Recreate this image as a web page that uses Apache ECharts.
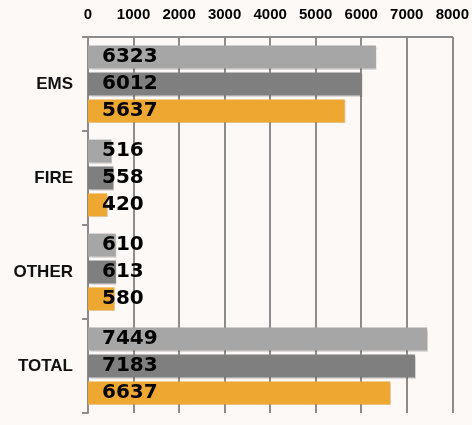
<!DOCTYPE html>
<html>
<head>
<meta charset="utf-8">
<script src="https://cdn.jsdelivr.net/npm/echarts@6/dist/echarts.min.js"></script>
<style>
html,body{margin:0;padding:0;background:#fdf9f6;}
#chart{width:472px;height:425px;}
</style>
</head>
<body>
<div id="chart"></div>
<script>
var categories = ['EMS', 'FIRE', 'OTHER', 'TOTAL'];
var series1 = [6323, 516, 610, 7449];
var series2 = [6012, 558, 613, 7183];
var series3 = [5637, 420, 580, 6637];
var xTicks = [0, 1000, 2000, 3000, 4000, 5000, 6000, 7000, 8000];

var chart = echarts.init(document.getElementById('chart'));
var gridColor = '#8c8c8c';
function mk(data, color) {
  return {
    type: 'bar',
    data: data,
    barWidth: 23,
    barGap: '17%',
    itemStyle: {
      color: color,
      shadowColor: 'rgba(0,0,0,0.12)',
      shadowOffsetX: 1,
      shadowOffsetY: 1,
      shadowBlur: 1
    },
    label: {
      show: true,
      position: [14, '50%'],
      align: 'left',
      verticalAlign: 'middle',
      color: '#000',
      fontFamily: 'DejaVu Sans',
      fontWeight: 'bold',
      fontSize: 20
    },
    animation: false
  };
}
chart.setOption({
  backgroundColor: '#fdf9f6',
  animation: false,
  grid: { left: 88, right: 17, top: 37, bottom: 12 },
  xAxis: {
    type: 'value',
    position: 'top',
    min: xTicks[0],
    max: xTicks[xTicks.length - 1],
    interval: 1000,
    axisLine: { show: true, lineStyle: { color: gridColor, width: 2 } },
    axisTick: { show: false },
    splitLine: { show: true, lineStyle: { color: gridColor, width: 2 } },
    axisLabel: {
      margin: 15,
      color: '#000',
      fontFamily: 'Liberation Sans',
      fontWeight: 'bold',
      fontSize: 15,
      formatter: function (v) { return String(v); }
    }
  },
  yAxis: {
    type: 'category',
    inverse: true,
    data: categories,
    axisLine: { show: true, lineStyle: { color: gridColor, width: 2 } },
    axisTick: { show: true, length: 6, lineStyle: { color: gridColor, width: 2 } },
    axisLabel: {
      margin: 15,
      color: '#111',
      fontFamily: 'Liberation Sans',
      fontWeight: 'bold',
      fontSize: 17
    }
  },
  series: [
    mk(series1, '#a6a6a6'),
    mk(series2, '#7f7f7f'),
    mk(series3, '#eea832')
  ]
});
</script>
</body>
</html>
